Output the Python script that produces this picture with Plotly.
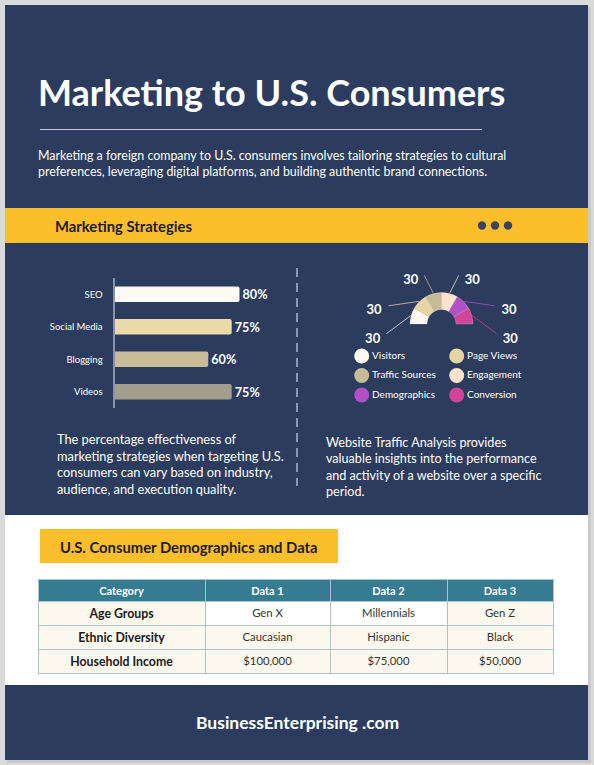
import plotly.graph_objects as go

W, H = 594, 765

# ---------------- data ----------------
TITLE = "Marketing to U.S. Consumers"
SUBTITLE = ["Marketing a foreign company to U.S. consumers involves tailoring strategies to cultural",
            "preferences, leveraging digital platforms, and building authentic brand connections."]
SECTION1 = "Marketing Strategies"

strategies = ["SEO", "Social Media", "Blogging", "Videos"]
effectiveness = [80, 75, 60, 75]
strategy_colors = ["#fdfaf2", "#ebd9a8", "#c9bd98", "#a39d8c"]

traffic_labels = ["Visitors", "Page Views", "Traffic Sources", "Engagement", "Demographics", "Conversion"]
traffic_values = [30, 30, 30, 30, 30, 30]
traffic_colors = ["#fcf8f0", "#e6d4a4", "#c7ba97", "#fde3cb", "#b24fc6", "#d2449b"]

LEFT_TEXT = ["The percentage effectiveness of",
             "marketing strategies when targeting U.S.",
             "consumers can vary based on industry,",
             "audience, and execution quality."]
RIGHT_TEXT = ["Website Traffic Analysis provides",
              "valuable insights into the performance",
              "and activity of a website over a specific",
              "period."]

SECTION2 = "U.S. Consumer Demographics and Data"
table_header = ["Category", "Data 1", "Data 2", "Data 3"]
table_categories = ["Age Groups", "Ethnic Diversity", "Household Income"]
table_data1 = ["Gen X", "Caucasian", "$100,000"]
table_data2 = ["Millennials", "Hispanic", "$75,000"]
table_data3 = ["Gen Z", "Black", "$50,000"]

FOOTER = "BusinessEnterprising .com"

# ---------------- style ----------------
NAVY = "#2b3c5e"
YELLOW = "#fbbf2c"
FONT = "Lato"


def fx(p):
    return p / W


def fy(p):
    return 1 - p / H


def nb(s):
    # keep table cells on one line at their fixed height
    return s.replace(" ", "\u00a0")


fig = go.Figure()

# ---- bar chart ----
fig.add_trace(go.Bar(
    x=effectiveness, y=strategies, orientation="h",
    marker=dict(color=strategy_colors, cornerradius=2, line=dict(width=0)),
    width=0.48,
    text=[f"{v}%" for v in effectiveness], textposition="outside",
    textfont=dict(family=FONT, size=13, color="white", weight="bold"),
    cliponaxis=False, hoverinfo="skip", showlegend=False,
    xaxis="x", yaxis="y",
))

# ---- semi donut (barpolar) ----
centers = []
acc = 0
for v in traffic_values:
    centers.append(acc + v / 2)
    acc += v
INNER, THICK = 14.5, 17
fig.add_trace(go.Barpolar(
    r=[THICK] * len(traffic_values), theta=centers, width=traffic_values,
    base=INNER,
    marker=dict(color=traffic_colors, line=dict(width=0.6, color="rgba(255,255,255,0.35)")),
    hoverinfo="skip", showlegend=False, subplot="polar",
))
# leader lines & labels (style offsets)
LEADER_END = [(-25, 56), (-26, 56), (-4.5, 51.5), (4.5, 51.5), (26, 56), (25, 56)]
LABEL_POS = [(-27.5, 70.5), (-34, 68.8), (-20.4, 53.2), (20.4, 53.2), (34, 68.8), (27.5, 70.5)]
for c, col, (dt, rr) in zip(centers, traffic_colors, LEADER_END):
    fig.add_trace(go.Scatterpolar(
        r=[INNER + THICK + 0.5, rr], theta=[c, c + dt], mode="lines",
        line=dict(color=col, width=1), opacity=0.75,
        hoverinfo="skip", showlegend=False, subplot="polar",
    ))
fig.add_trace(go.Scatterpolar(
    r=[p[1] for p in LABEL_POS], theta=[c + p[0] for c, p in zip(centers, LABEL_POS)],
    mode="text", text=[str(v) for v in traffic_values], textposition="middle center",
    textfont=dict(family=FONT, size=13, color="white", weight="bold"),
    hoverinfo="skip", showlegend=False, subplot="polar", cliponaxis=False,
))

# ---- custom legend (pixel overlay axes) ----
LEG_X0, LEG_DX, LEG_Y0, LEG_DY = 361.7, 95, 356, 19.5
fig.add_trace(go.Scatter(
    x=[LEG_X0 + LEG_DX * (i % 2) for i in range(len(traffic_labels))],
    y=[LEG_Y0 + LEG_DY * (i // 2) for i in range(len(traffic_labels))],
    mode="markers+text", text=traffic_labels, textposition="middle right",
    marker=dict(size=15, color=traffic_colors),
    textfont=dict(family=FONT, size=10, color="white"),
    hoverinfo="skip", showlegend=False, xaxis="x2", yaxis="y2", cliponaxis=False,
))

# ---- table ----
CREAM = "#fdf8ee"
WHITE = "#ffffff"
fig.add_trace(go.Table(
    domain=dict(x=[fx(38), fx(553)], y=[fy(676), fy(579)]),
    columnwidth=[167, 125, 117, 106],
    header=dict(values=[nb(h) for h in table_header],
                fill_color="#367b92", line=dict(color="#a8c4cd", width=1),
                font=dict(family=FONT, size=11, color="white", weight="bold"), align="center", height=22),
    cells=dict(values=[[nb(c) for c in table_categories],
                       [nb(c) for c in table_data1],
                       [nb(c) for c in table_data2],
                       [nb(c) for c in table_data3]],
               fill_color=[[CREAM, CREAM, CREAM], [WHITE, CREAM, CREAM], [WHITE, CREAM, CREAM], [CREAM, CREAM, CREAM]],
               line=dict(color="#a8c4cd", width=1),
               font=dict(family=FONT, size=[12.3, 11.3, 11.3, 11.3],
                         color=["#1a1a1a", "#333333", "#333333", "#333333"],
                         weight=["bold", "normal", "normal", "normal"]),
               align="center", height=24),
))

# ---------------- shapes ----------------
shapes = [
    dict(type="rect", x0=fx(7), x1=fx(591), y0=fy(763), y1=fy(7), fillcolor="#c9c9c9", line_width=0),
    dict(type="rect", x0=fx(5), x1=fx(588), y0=fy(515), y1=fy(5), fillcolor=NAVY, line_width=0),
    dict(type="rect", x0=fx(5), x1=fx(588), y0=fy(685), y1=fy(515), fillcolor="white", line_width=0),
    dict(type="rect", x0=fx(5), x1=fx(588), y0=fy(760), y1=fy(685), fillcolor=NAVY, line_width=0),
    dict(type="line", x0=fx(40), x1=fx(482), y0=fy(129.5), y1=fy(129.5), line=dict(color="#c6cad4", width=1)),
    dict(type="rect", x0=fx(5), x1=fx(588), y0=fy(243), y1=fy(208), fillcolor=YELLOW, line_width=0),
    dict(type="line", x0=fx(297), x1=fx(297), y0=fy(268), y1=fy(486),
         line=dict(color="#a9b6d3", width=1.5, dash="9px,6px")),
    dict(type="rect", x0=fx(40), x1=fx(338), y0=fy(563), y1=fy(529), fillcolor=YELLOW, line_width=0),
]
for cx in (482, 495, 508):
    shapes.append(dict(type="circle", x0=fx(cx - 4.2), x1=fx(cx + 4.2), y0=fy(225.5 + 4.2), y1=fy(225.5 - 4.2),
                       fillcolor="#39455e", line_width=0))
for s in shapes:
    s.update(xref="paper", yref="paper", layer="below")


# ---------------- annotations ----------------
def ann(text, x, y, size, color="white", bold=False, xanchor="left"):
    return dict(text=text, x=fx(x), y=fy(y), xref="paper", yref="paper", showarrow=False,
                xanchor=xanchor, yanchor="middle", align="left",
                font=dict(family=FONT, size=size, color=color, weight="bold" if bold else "normal"))


annotations = [
    ann(TITLE, 36, 92, 36, bold=True),
    ann("<br>".join(SUBTITLE), 36, 163, 12.4),
    ann(SECTION1, 53, 225.5, 14.8, color="#1c1c1c", bold=True),
    ann("<br>".join(LEFT_TEXT), 55, 464.5, 12.8),
    ann("<br>".join(RIGHT_TEXT), 324, 466.5, 12.6),
    ann(SECTION2, 58, 546.5, 14.8, color="#1c1c1c", bold=True),
    ann(FOOTER, 297, 722, 17.5, bold=True, xanchor="center"),
]

fig.update_layout(
    width=W, height=H, margin=dict(l=0, r=0, t=0, b=0),
    paper_bgcolor="#dadada", plot_bgcolor="rgba(0,0,0,0)",
    shapes=shapes, annotations=annotations, showlegend=False,
    xaxis=dict(domain=[fx(114.5), fx(114.5 + 156.25)], range=[0, 100], visible=False, fixedrange=True),
    yaxis=dict(domain=[fy(408), fy(278)], autorange="reversed", showline=True, linecolor="#8793ab",
               linewidth=2, showgrid=False, zeroline=False, ticks="", ticklabelstandoff=8,
               tickfont=dict(family=FONT, size=9.5, color="white"), fixedrange=True, anchor="x"),
    xaxis2=dict(domain=[0, 1], range=[0, W], visible=False, fixedrange=True, anchor="y2"),
    yaxis2=dict(domain=[0, 1], range=[H, 0], visible=False, fixedrange=True, anchor="x2"),
    polar=dict(domain=dict(x=[fx(351.5), fx(531.5)], y=[fy(414), fy(234)]),
               bgcolor="rgba(0,0,0,0)",
               radialaxis=dict(range=[0, 90], visible=False),
               angularaxis=dict(rotation=180, direction="clockwise", visible=False),
               barmode="overlay"),
    bargap=0.5,
)

fig.write_html("out.html", config={"displayModeBar": False},
               post_script="document.body.style.margin='0';")
